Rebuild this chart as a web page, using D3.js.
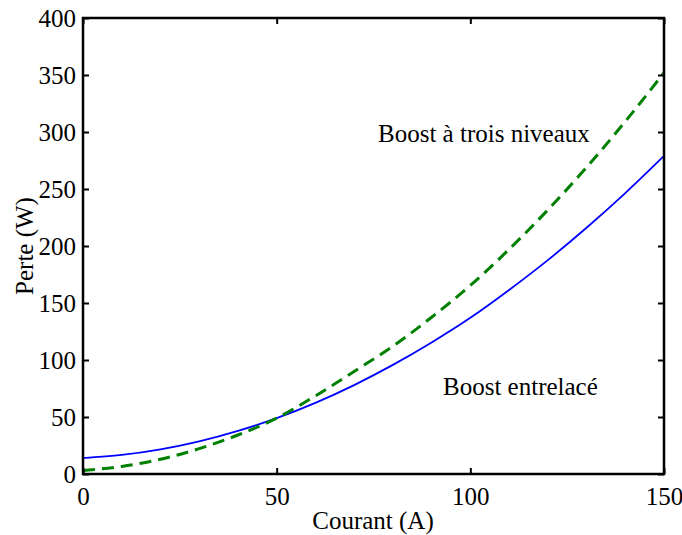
<!DOCTYPE html>
<html><head><meta charset="utf-8">
<script src="https://cdn.jsdelivr.net/npm/d3@7"></script>
<style>body{margin:0;background:#fff}text{font-family:"Liberation Serif","Times New Roman",serif}</style>
</head><body><svg id="c" width="682" height="535"></svg>
<script>
const current = [0,10,20,30,40,50,60,70,80,90,100,110,120,130,140,150];
const interlaced = [14,16.7,21.6,28.6,37.8,49,62.4,78,95.7,115.4,137,161.4,187.6,216,246.4,279];
const threeLevel = [3,6.6,12.9,22.2,34.2,49,68.5,90,112,137.5,165.4,197.1,231.6,269,309.2,352];
const xTicks = [0,50,100,150];
const yTicks = [0,50,100,150,200,250,300,350,400];
const labels = ["Boost à trois niveaux","Boost entrelacé"];

const svg = d3.select("#c");
const L=83,R=664,T=18,B=474;
const x = d3.scaleLinear().domain([0,150]).range([L,R]);
const y = d3.scaleLinear().domain([0,400]).range([B,T]);

const line = d3.line().x((d,i)=>x(current[i])).y(d=>y(d)).curve(d3.curveMonotoneX);
svg.append("path").attr("d",line(interlaced)).attr("fill","none").attr("stroke","#0000ff").attr("stroke-width",1.8);
svg.append("path").attr("d",line(threeLevel)).attr("fill","none").attr("stroke","#008000").attr("stroke-width",3).attr("stroke-dasharray","12,7");

const fs = "25px";
const gx = svg.append("g").attr("transform",`translate(0,${B})`)
  .call(d3.axisBottom(x).tickValues(xTicks).tickSize(-6).tickPadding(13));
const gxt = svg.append("g").attr("transform",`translate(0,${T})`)
  .call(d3.axisTop(x).tickValues(xTicks).tickSize(-6).tickFormat(""));
const gy = svg.append("g").attr("transform",`translate(${L},0)`)
  .call(d3.axisLeft(y).tickValues(yTicks).tickSize(-6).tickPadding(7));
const gyr = svg.append("g").attr("transform",`translate(${R},0)`)
  .call(d3.axisRight(y).tickValues(yTicks).tickSize(-6).tickFormat(""));
[gx,gxt,gy,gyr].forEach(g=>{
  g.select(".domain").remove();
  g.selectAll("line").attr("stroke","#000").attr("stroke-width",2);
  g.selectAll("text").attr("font-size",fs).attr("fill","#000").attr("font-family","Liberation Serif");
});
gx.selectAll("text").attr("dy","0.71em");
svg.append("rect").attr("x",L).attr("y",T).attr("width",R-L).attr("height",B-T)
  .attr("fill","none").attr("stroke","#000").attr("stroke-width",2.5);

svg.append("text").attr("x",373).attr("y",529).attr("text-anchor","middle").attr("font-size",fs).text("Courant (A)");
svg.append("text").attr("transform","translate(33,246) rotate(-90)").attr("text-anchor","middle").attr("font-size",fs).text("Perte (W)");
svg.append("text").attr("x",378).attr("y",142).attr("font-size",fs).text(labels[0]);
svg.append("text").attr("x",443).attr("y",395).attr("font-size",fs).text(labels[1]);
</script></body></html>
